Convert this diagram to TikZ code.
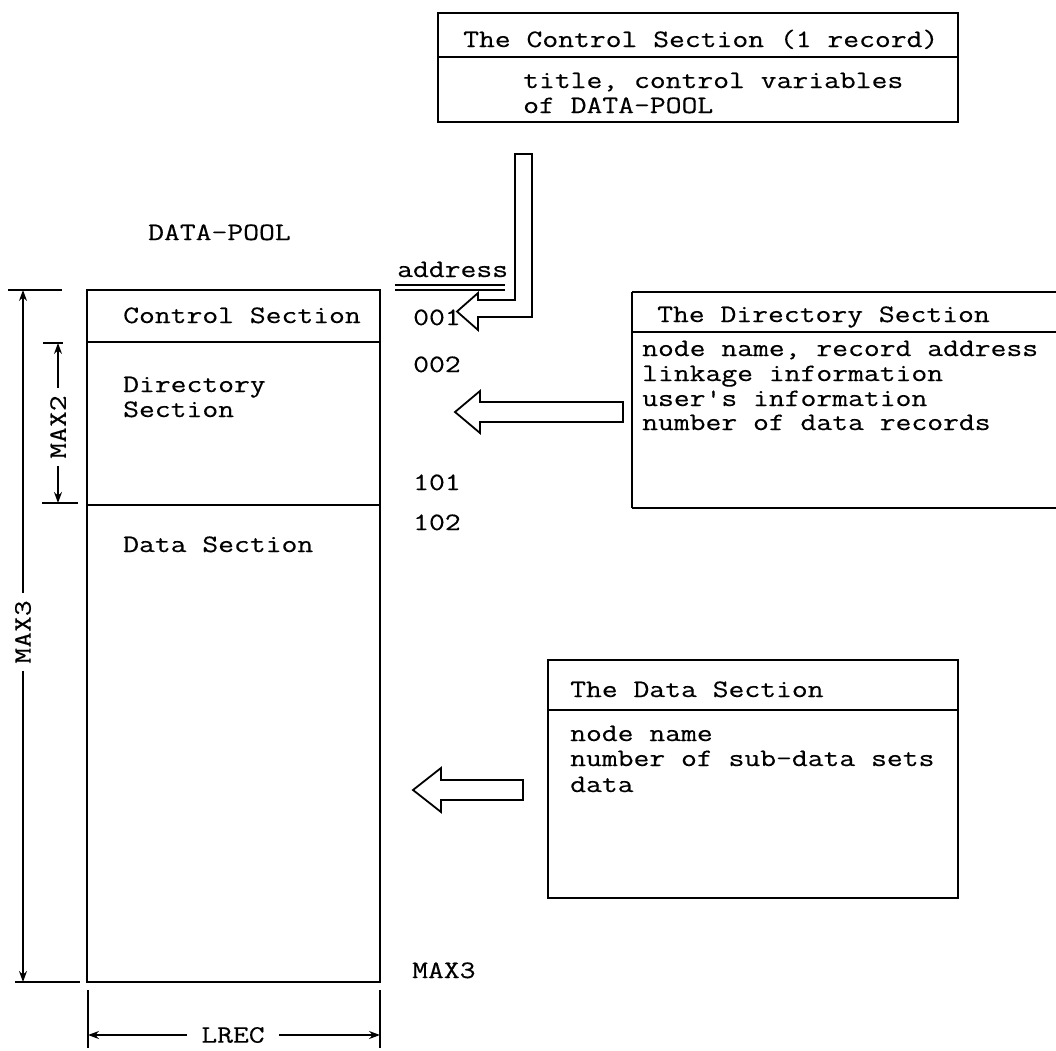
\documentclass[tikz,border=0pt]{standalone}
\usepackage{fontspec}
\setmonofont[FakeStretch=1.23,FakeBold=0.4]{Latin Modern Mono}
\usetikzlibrary{arrows.meta}
\newcommand\typeface{\ttfamily\fontsize{25bp}{25bp}\selectfont}
\begin{document}
\begin{tikzpicture}[x=1bp,y=-1bp,
  every node/.style={font=\typeface, inner sep=0pt},
  txt/.style={anchor=base west},
  frame/.style={draw, line width=1.6bp},
  dim/.style={line width=1.2bp, -{Stealth[length=11bp,width=8bp]}},
  tick/.style={line width=1.4bp},
  blockarrow/.style={draw, line width=1.8bp, fill=white, line join=miter},
  dimlabel/.style={rotate=90, inner xsep=7bp}]
\useasboundingbox (0,0) rectangle (1056,1051);
\clip (0,0) rectangle (1056,1051);

% ---- control section description
\draw[frame] (438,13) rectangle (958,122);
\draw[frame] (438,57) -- (958,57);
\node[txt] (ctitle) at (463,47) {The Control Section (1 record)};
\node[txt] (cline1) at (523,88) {title, control variables};
\node[txt] (cline2) at (523,113) {of DATA-POOL};

% ---- labels around the pool
\node[txt] (pool) at (148,240) {DATA-POOL};
\node[txt] (addr) at (397,277) {address};
\draw[line width=1.2bp] (395,285) -- (505,285) (395,290) -- (505,290);
\node[txt] (a001) at (413,325) {001};
\node[txt] (a002) at (413,372) {002};
\node[txt] (a101) at (413,490) {101};
\node[txt] (a102) at (413,530) {102};
\node[txt] (amax) at (412,978) {MAX3};

% ---- the DATA-POOL file
\draw[frame] (87,290) rectangle (380,982);
\draw[frame] (87,342) -- (380,342);
\draw[frame] (87,505) -- (380,505);
\node[txt] (sctl) at (123,323) {Control Section};
\node[txt] (sdir1) at (123,392) {Directory};
\node[txt] (sdir2) at (123,417) {Section};
\node[txt] (sdat) at (123,552) {Data Section};

% ---- dimension lines
\draw[tick] (8,290) -- (62,290);
\draw[tick] (15,982) -- (80,982);
\draw[tick] (43,343) -- (63,343);
\draw[tick] (42,503) -- (78,503);
\draw[tick] (88,990) -- (88,1048);
\draw[tick] (380,990) -- (380,1048);
\coordinate (m3top) at (23,290);
\coordinate (m3bot) at (23,982);
\coordinate (m2top) at (58,343);
\coordinate (m2bot) at (58,503);
\coordinate (lrl) at (88,1035);
\coordinate (lrr) at (380,1035);
\node[dimlabel] (max3) at (23,632) {MAX3};
\node[dimlabel] (max2) at (58,427) {MAX2};
\node[inner xsep=14bp] (lrec) at (233,1035) {LREC};
\draw[dim] (max3.east) -- (m3top);
\draw[dim] (max3.west) -- (m3bot);
\draw[dim] (max2.east) -- (m2top);
\draw[dim] (max2.west) -- (m2bot);
\draw[dim] (lrec.west) -- (lrl);
\draw[dim] (lrec.east) -- (lrr);

% ---- directory section description
\draw[frame] (632,292) -- (1060,292) (632,332) -- (1060,332) (632,508) -- (1060,508) (632,292) -- (632,508);
\node[txt] (dtitle) at (657,322) {The Directory Section};
\node[txt] (dline1) at (642,356) {node name, record address};
\node[txt] (dline2) at (642,381) {linkage information};
\node[txt] (dline3) at (642,406) {user's information};
\node[txt] (dline4) at (642,430) {number of data records};

% ---- data section description
\draw[frame] (548,660) rectangle (958,898);
\draw[frame] (548,710) -- (958,710);
\node[txt] (ttitle) at (570,697) {The Data Section};
\node[txt] (tline1) at (570,741) {node name};
\node[txt] (tline2) at (570,766) {number of sub-data sets};
\node[txt] (tline3) at (570,792) {data};

% ---- hollow block arrows
\draw[blockarrow] (515,154) -- (532,154) -- (532,317) -- (478,317) -- (478,330)
  -- (457,311.5) -- (478,293) -- (478,300) -- (515,300) -- cycle;
\draw[blockarrow] (623,402) -- (480,402) -- (480,391) -- (455,412)
  -- (480,433) -- (480,422) -- (623,422) -- cycle;
\draw[blockarrow] (523,780) -- (441,780) -- (441,768) -- (413,790)
  -- (441,812) -- (441,800) -- (523,800) -- cycle;
\end{tikzpicture}
\end{document}
